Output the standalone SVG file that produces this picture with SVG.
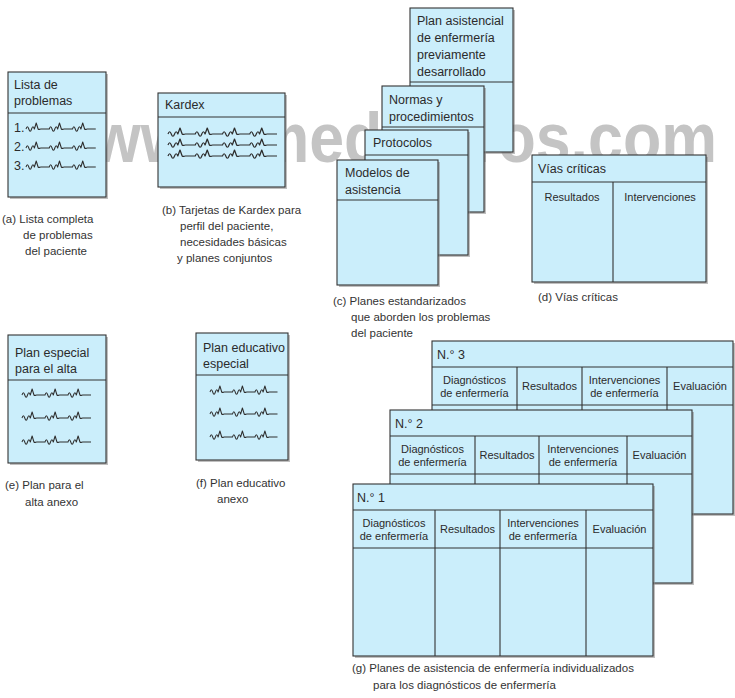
<svg xmlns="http://www.w3.org/2000/svg" width="735" height="698" viewBox="0 0 735 698">
<style>
.bx{fill:#cbeefb;stroke:#333;stroke-width:1.1}
.sh{fill:#8a8a8a;opacity:.55}
.ln{stroke:#333;stroke-width:1.1;fill:none}
.t{font-family:"Liberation Sans",Arial,sans-serif;font-size:12.5px;fill:#2b2b2b}
.c{font-family:"Liberation Sans",Arial,sans-serif;font-size:11.5px;fill:#333}
.s{font-family:"Liberation Sans",Arial,sans-serif;font-size:11px;fill:#2b2b2b}
.m{text-anchor:middle}
.wv{fill:none;stroke:#2e2e2e;stroke-width:1.15;stroke-linejoin:round}
.wm{font-family:"Liberation Sans",Arial,sans-serif;font-weight:bold;font-size:70px;fill:#c4c4c4}
</style>
<defs>
<path id="w3" class="wv" d="M0,0 c1,-3 2,-3 3,0 c1,3 2,3 3,0 c1,-3 2,-3 3,0 l2,-6 l2,6 c1,1 2,0 3,0 l9,0 c1,-3 2,-3 3,0 c1,3 2,3 3,0 c1,-3 2,-3 3,0 l2,-6 l2,6 c1,1 2,0 3,0 l9,0 c1,-3 2,-3 3,0 c1,3 2,3 3,0 c1,-3 2,-3 3,0 l2,-6 l2,6 c1,1 2,0 3,0 l9,0"/>
<path id="w4" class="wv" d="M0,0 c1,-3 2,-3 3,0 c1,3 2,3 3,0 c1,-3 2,-3 3,0 l2,-6 l2,6 c1,1 2,0 3,0 l9,0 c1,-3 2,-3 3,0 c1,3 2,3 3,0 c1,-3 2,-3 3,0 l2,-6 l2,6 c1,1 2,0 3,0 l9,0 c1,-3 2,-3 3,0 c1,3 2,3 3,0 c1,-3 2,-3 3,0 l2,-6 l2,6 c1,1 2,0 3,0 l9,0 c1,-3 2,-3 3,0 c1,3 2,3 3,0 c1,-3 2,-3 3,0 l2,-6 l2,6 c1,1 2,0 3,0 l9,0"/>
</defs>
<rect width="735" height="698" fill="#fff"/>

<text class="wm" x="92" y="162" textLength="625" lengthAdjust="spacingAndGlyphs">www.medilibros.com</text>

<g id="lista">
<rect class="sh" x="10" y="74" width="98" height="125"/>
<rect class="bx" x="8" y="72" width="98" height="125"/>
<line class="ln" x1="8" y1="113" x2="106" y2="113"/>
<text class="t" x="14" y="89">Lista de</text>
<text class="t" x="14" y="105">problemas</text>
<text class="t" x="14" y="132">1.</text>
<text class="t" x="14" y="151">2.</text>
<text class="t" x="14" y="170">3.</text>
<use href="#w3" transform="translate(26,129) scale(0.93,1)"/>
<use href="#w3" transform="translate(26,148) scale(0.93,1)"/>
<use href="#w3" transform="translate(26,167) scale(0.93,1)"/>
<text class="c" x="2" y="223">(a) Lista completa</text>
<text class="c" x="23" y="239">de problemas</text>
<text class="c" x="25" y="255">del paciente</text>
</g>

<g id="kardex">
<rect class="sh" x="160" y="95" width="127" height="94"/>
<rect class="bx" x="158" y="93" width="127" height="94"/>
<line class="ln" x1="158" y1="117" x2="285" y2="117"/>
<text class="t" x="165" y="109">Kardex</text>
<use href="#w4" transform="translate(168,134) scale(1.09,1)"/>
<use href="#w4" transform="translate(168,145) scale(1.09,1)"/>
<use href="#w4" transform="translate(168,156) scale(1.09,1)"/>
<text class="c" x="162" y="214">(b) Tarjetas de Kardex para</text>
<text class="c" x="180" y="230">perfil del paciente,</text>
<text class="c" x="180" y="246">necesidades básicas</text>
<text class="c" x="177" y="262">y planes conjuntos</text>
</g>

<g id="estandarizados">
<g id="plan-asistencial">
<rect class="sh" x="412" y="10" width="103" height="144"/>
<rect class="bx" x="410" y="8" width="103" height="144"/>
<line class="ln" x1="410" y1="82" x2="513" y2="82"/>
<text class="t" x="417" y="25">Plan asistencial</text>
<text class="t" x="417" y="42">de enfermería</text>
<text class="t" x="417" y="59">previamente</text>
<text class="t" x="417" y="76">desarrollado</text>
</g>
<g id="normas">
<rect class="sh" x="384" y="88" width="102" height="126"/>
<rect class="bx" x="382" y="86" width="102" height="126"/>
<line class="ln" x1="382" y1="127" x2="484" y2="127"/>
<text class="t" x="389" y="104">Normas y</text>
<text class="t" x="389" y="121">procedimientos</text>
</g>
<g id="protocolos">
<rect class="sh" x="367" y="132" width="103" height="125"/>
<rect class="bx" x="365" y="130" width="103" height="125"/>
<line class="ln" x1="365" y1="155" x2="468" y2="155"/>
<text class="t" x="373" y="147">Protocolos</text>
</g>
<g id="modelos">
<rect class="sh" x="339" y="162" width="101" height="125"/>
<rect class="bx" x="337" y="160" width="101" height="125"/>
<line class="ln" x1="337" y1="200" x2="438" y2="200"/>
<text class="t" x="345" y="177">Modelos de</text>
<text class="t" x="345" y="194">asistencia</text>
</g>
<text class="c" x="333" y="305">(c) Planes estandarizados</text>
<text class="c" x="351" y="321">que aborden los problemas</text>
<text class="c" x="351" y="337">del paciente</text>
</g>

<g id="vias">
<rect class="sh" x="534" y="157" width="174" height="127"/>
<rect class="bx" x="532" y="155" width="174" height="127"/>
<line class="ln" x1="532" y1="182" x2="706" y2="182"/>
<line class="ln" x1="613" y1="182" x2="613" y2="282"/>
<text class="t" x="538" y="173">Vías críticas</text>
<text class="s m" x="572" y="201">Resultados</text>
<text class="s m" x="660" y="201">Intervenciones</text>
<text class="c" x="538" y="301">(d) Vías críticas</text>
</g>

<g id="alta">
<rect class="sh" x="10" y="337" width="98" height="128"/>
<rect class="bx" x="8" y="335" width="98" height="128"/>
<line class="ln" x1="8" y1="380" x2="106" y2="380"/>
<text class="t" x="15" y="357">Plan especial</text>
<text class="t" x="15" y="373">para el alta</text>
<use href="#w3" transform="translate(22,395) scale(0.92,1)"/>
<use href="#w3" transform="translate(22,418) scale(0.92,1)"/>
<use href="#w3" transform="translate(22,442) scale(0.92,1)"/>
<text class="c" x="5" y="489">(e) Plan para el</text>
<text class="c" x="25" y="506">alta anexo</text>
</g>

<g id="educativo">
<rect class="sh" x="198" y="335" width="92" height="127"/>
<rect class="bx" x="196" y="333" width="92" height="127"/>
<line class="ln" x1="196" y1="375" x2="288" y2="375"/>
<text class="t" x="203" y="352">Plan educativo</text>
<text class="t" x="203" y="368">especial</text>
<use href="#w3" transform="translate(210,392) scale(0.9,1)"/>
<use href="#w3" transform="translate(210,414) scale(0.9,1)"/>
<use href="#w3" transform="translate(210,437) scale(0.9,1)"/>
<text class="c" x="196" y="487">(f) Plan educativo</text>
<text class="c" x="217" y="503">anexo</text>
</g>

<g id="individualizados">
<g id="n3">
<rect class="sh" x="434" y="343" width="301" height="173"/>
<rect class="bx" x="432" y="341" width="301" height="173"/>
<line class="ln" x1="432" y1="367" x2="733" y2="367"/>
<line class="ln" x1="432" y1="405" x2="733" y2="405"/>
<line class="ln" x1="517" y1="367" x2="517" y2="514"/>
<line class="ln" x1="582" y1="367" x2="582" y2="514"/>
<line class="ln" x1="667" y1="367" x2="667" y2="514"/>
<text class="t" x="437" y="359">N.° 3</text>
<text class="s m" x="474.5" y="384">Diagnósticos</text>
<text class="s m" x="474.5" y="397">de enfermería</text>
<text class="s m" x="549.5" y="390">Resultados</text>
<text class="s m" x="624.5" y="384">Intervenciones</text>
<text class="s m" x="624.5" y="397">de enfermería</text>
<text class="s m" x="700" y="390">Evaluación</text>
</g>
<g id="n2">
<rect class="sh" x="392" y="412" width="302" height="173"/>
<rect class="bx" x="390" y="410" width="302" height="173"/>
<line class="ln" x1="390" y1="436" x2="692" y2="436"/>
<line class="ln" x1="390" y1="474" x2="692" y2="474"/>
<line class="ln" x1="475" y1="436" x2="475" y2="583"/>
<line class="ln" x1="539" y1="436" x2="539" y2="583"/>
<line class="ln" x1="627" y1="436" x2="627" y2="583"/>
<text class="t" x="395" y="428">N.° 2</text>
<text class="s m" x="432.5" y="453">Diagnósticos</text>
<text class="s m" x="432.5" y="466">de enfermería</text>
<text class="s m" x="507" y="459">Resultados</text>
<text class="s m" x="583" y="453">Intervenciones</text>
<text class="s m" x="583" y="466">de enfermería</text>
<text class="s m" x="659.5" y="459">Evaluación</text>
</g>
<g id="n1">
<rect class="sh" x="355" y="486" width="300" height="172"/>
<rect class="bx" x="353" y="484" width="300" height="172"/>
<line class="ln" x1="353" y1="510" x2="653" y2="510"/>
<line class="ln" x1="353" y1="548" x2="653" y2="548"/>
<line class="ln" x1="435" y1="510" x2="435" y2="656"/>
<line class="ln" x1="500" y1="510" x2="500" y2="656"/>
<line class="ln" x1="586" y1="510" x2="586" y2="656"/>
<text class="t" x="357" y="502">N.° 1</text>
<text class="s m" x="394" y="527">Diagnósticos</text>
<text class="s m" x="394" y="540">de enfermería</text>
<text class="s m" x="467.5" y="533">Resultados</text>
<text class="s m" x="543" y="527">Intervenciones</text>
<text class="s m" x="543" y="540">de enfermería</text>
<text class="s m" x="619.5" y="533">Evaluación</text>
</g>
<text class="c" x="352" y="672">(g) Planes de asistencia de enfermería individualizados</text>
<text class="c" x="373" y="689">para los diagnósticos de enfermería</text>
</g>
</svg>
